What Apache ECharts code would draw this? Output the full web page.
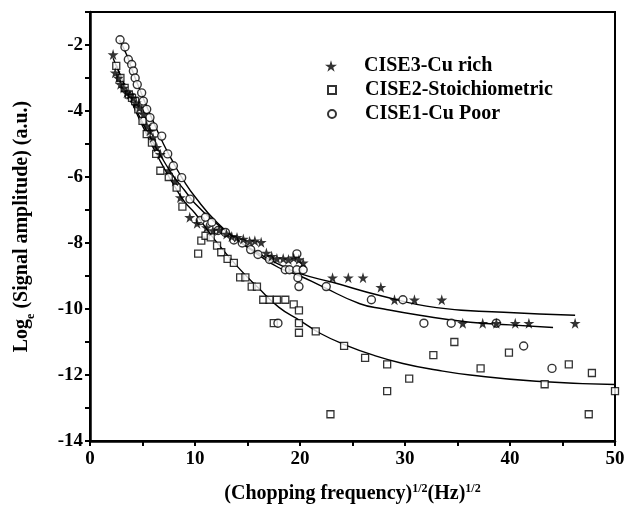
<!DOCTYPE html>
<html>
<head>
<meta charset="utf-8">
<script src="https://cdn.jsdelivr.net/npm/echarts/dist/echarts.min.js"></script>
<style>
  html, body { margin: 0; padding: 0; background: #fff; }
  #chart { width: 629px; height: 516px; }
</style>
</head>
<body>
<div id="chart"></div>
<script>
// Measured points: [sqrt(chopping frequency), ln(signal amplitude)]
const cise3Rich = [
  [2.2,-2.29],[2.4,-2.84],[2.7,-3.0],[2.9,-3.19],[3.2,-3.3],[3.5,-3.45],[3.8,-3.5],[4.1,-3.6],
  [4.4,-3.75],[4.7,-3.9],[5.1,-4.1],[5.4,-4.45],[5.7,-4.6],[6.0,-4.8],[6.35,-5.1],[6.7,-5.31],
  [7.5,-5.8],[8.1,-6.12],[8.6,-6.62],[9.5,-7.22],[10.2,-7.4],[11.1,-7.53],[11.7,-7.62],[12.3,-7.6],
  [13.0,-7.73],[13.5,-7.8],[14.0,-7.83],[14.6,-7.88],[15.2,-7.95],[15.7,-7.93],[16.3,-7.98],
  [16.8,-8.3],[17.3,-8.4],[17.8,-8.47],[18.4,-8.47],[18.9,-8.5],[19.4,-8.45],[19.9,-8.5],[20.3,-8.6],
  [23.1,-9.05],[24.6,-9.05],[26.0,-9.05],[27.7,-9.34],[29.0,-9.72],[30.9,-9.72],[33.5,-9.72],
  [35.5,-10.43],[37.4,-10.43],[38.7,-10.43],[40.5,-10.43],[41.8,-10.43],[46.2,-10.43]
];
const cise2Stoich = [
  [2.5,-2.63],[2.9,-3.0],[3.3,-3.3],[3.7,-3.5],[4.0,-3.6],[4.3,-3.7],[4.6,-3.95],[5.0,-4.3],
  [5.4,-4.7],[5.9,-4.96],[6.3,-5.3],[6.7,-5.81],[7.5,-6.0],[8.25,-6.32],[8.8,-6.9],[10.3,-8.32],
  [10.6,-7.93],[11.0,-7.78],[11.5,-7.83],[12.1,-8.08],[12.5,-8.28],[13.1,-8.48],[13.7,-8.6],
  [14.3,-9.04],[14.8,-9.04],[15.4,-9.32],[15.9,-9.32],[16.5,-9.72],[17.1,-9.72],[17.8,-9.72],
  [18.6,-9.72],[19.4,-9.86],[19.9,-10.04],[17.5,-10.43],[19.9,-10.43],[19.9,-10.72],[21.5,-10.68],
  [22.9,-13.19],[24.2,-11.12],[26.2,-11.48],[28.3,-11.68],[28.3,-12.49],[30.4,-12.11],[32.7,-11.4],
  [34.7,-11.0],[37.2,-11.8],[39.9,-11.32],[43.3,-12.28],[45.6,-11.68],[47.5,-13.19],[47.8,-11.94],
  [50.0,-12.49]
];
const cise1Poor = [
  [2.86,-1.84],[3.33,-2.06],[3.65,-2.44],[3.97,-2.59],[4.13,-2.79],[4.3,-3.0],[4.5,-3.2],[4.92,-3.45],
  [5.08,-3.7],[5.4,-3.95],[5.71,-4.2],[6.03,-4.48],[6.83,-4.76],[7.4,-5.3],[7.94,-5.66],[8.73,-6.02],
  [9.52,-6.67],[10.5,-7.32],[11.0,-7.22],[11.6,-7.37],[12.2,-7.62],[12.9,-7.68],[13.7,-7.91],
  [14.5,-8.0],[15.3,-8.2],[16.0,-8.35],[17.1,-8.5],[17.9,-10.43],[18.6,-8.81],[19.0,-8.81],
  [19.7,-8.33],[19.7,-8.81],[20.3,-8.81],[19.8,-9.05],[19.9,-9.32],[22.5,-9.32],[26.8,-9.72],
  [29.8,-9.72],[31.8,-10.43],[34.4,-10.43],[38.7,-10.43],[41.3,-11.12],[44.0,-11.8]
];

// Fitted decay curves
const fit3 = [
  [2.2,-2.4],[3,-3.0],[4,-3.7],[5,-4.35],[6,-4.95],[7,-5.5],[8,-6.0],[9,-6.4],[10,-6.8],
  [12,-7.4],[14,-7.9],[16,-8.3],[18,-8.65],[20,-8.93],[23.1,-9.19],[27.6,-9.59],[33,-9.96],
  [39.4,-10.10],[46.2,-10.19]
];
const fit2 = [
  [2.5,-2.6],[3,-3.0],[4,-3.75],[5,-4.45],[6,-5.1],[7,-5.7],[8,-6.25],[9,-6.75],[10,-7.1],
  [12,-7.95],[14,-8.7],[16,-9.35],[18,-9.95],[20,-10.35],[22,-10.75],[24.4,-11.1],[27,-11.4],
  [29.8,-11.65],[33,-11.85],[36.2,-12.0],[42.5,-12.19],[50,-12.29]
];
const fit1 = [
  [2.8,-1.85],[3.5,-2.3],[4,-2.75],[5,-3.55],[6,-4.3],[7,-5.0],[8,-5.6],[9,-6.15],[10,-6.6],
  [12,-7.35],[14,-7.9],[16,-8.35],[18,-8.75],[20,-9.0],[22,-9.3],[25.7,-9.84],[28,-10.0],
  [31.4,-10.19],[36.2,-10.4],[40,-10.48],[44.1,-10.56]
];

const seriesNames = ['CISE3-Cu rich', 'CISE2-Stoichiometric', 'CISE1-Cu Poor'];

const FONT = '"Liberation Serif", "Times New Roman", serif';
const STAR = 'path://M50,0 L61,35 L98,35 L68,57 L79,91 L50,70 L21,91 L32,57 L2,35 L39,35 Z';

const chart = echarts.init(document.getElementById('chart'), null, { renderer: 'canvas' });

function fitLine(data) {
  return {
    type: 'line', data: data, smooth: true, showSymbol: false, symbol: 'none',
    lineStyle: { color: '#000', width: 1.4 }, silent: true, z: 1
  };
}

// One legend block per entry so each key symbol can have its own size
function legendRow(name, icon, size, centerY) {
  const iconCenter = 331, textStart = 364, fontSize = 20;
  const left = iconCenter - size / 2;
  return {
    orient: 'vertical', left: left, top: centerY - fontSize / 2, padding: 0,
    itemWidth: size, itemHeight: size,
    textStyle: {
      fontFamily: FONT, fontWeight: 'bold', fontSize: fontSize, color: '#000',
      padding: [0, 0, 0, textStart - (left + size + 5)]
    },
    data: [{ name: name, icon: icon }]
  };
}

chart.setOption({
  animation: false,
  backgroundColor: '#fff',
  grid: { left: 90, right: 14, top: 12, bottom: 75, show: true, borderColor: '#000', borderWidth: 2 },
  legend: [
    legendRow(seriesNames[0], STAR, 12, 66),
    legendRow(seriesNames[1], 'rect', 8, 90),
    legendRow(seriesNames[2], 'circle', 8, 114)
  ],
  xAxis: {
    type: 'value', min: 0, max: 50, interval: 10,
    axisLine: { lineStyle: { color: '#000', width: 2.5 } },
    axisTick: { show: true, inside: false, length: 5, lineStyle: { color: '#000', width: 2 } },
    minorTick: { show: true, splitNumber: 2, length: 5, lineStyle: { color: '#000', width: 2 } },
    splitLine: { show: false },
    axisLabel: { fontFamily: FONT, fontWeight: 'bold', fontSize: 19, color: '#000', margin: 9 },
    name: '{a|(Chopping frequency)}{s|1/2}{a|(Hz)}{s|1/2}',
    nameLocation: 'middle', nameGap: 42,
    nameTextStyle: {
      rich: {
        a: { fontFamily: FONT, fontWeight: 'bold', fontSize: 20, color: '#000', lineHeight: 21 },
        s: { fontFamily: FONT, fontWeight: 'bold', fontSize: 12, color: '#000', verticalAlign: 'top', lineHeight: 12 }
      }
    }
  },
  yAxis: {
    type: 'value', min: -14, max: -1, interval: 2,
    axisLine: { lineStyle: { color: '#000', width: 2.5 } },
    axisTick: { show: true, inside: false, length: 5, lineStyle: { color: '#000', width: 2 } },
    minorTick: { show: true, splitNumber: 2, length: 5, lineStyle: { color: '#000', width: 2 } },
    splitLine: { show: false },
    axisLabel: {
      fontFamily: FONT, fontWeight: 'bold', fontSize: 19, color: '#000', margin: 7,
      formatter: v => (v === -1 ? '' : String(v))
    },
    name: '{a|Log}{e|e}{a| (Signal amplitude) (a.u.)}',
    nameLocation: 'middle', nameRotate: 90, nameGap: 58,
    nameTextStyle: {
      rich: {
        a: { fontFamily: FONT, fontWeight: 'bold', fontSize: 20, color: '#000', lineHeight: 21 },
        e: { fontFamily: FONT, fontWeight: 'bold', fontSize: 12, color: '#000', verticalAlign: 'bottom', lineHeight: 12, padding: [0, 0, -5, 0] }
      }
    }
  },
  series: [
    fitLine(fit3), fitLine(fit2), fitLine(fit1),
    {
      name: seriesNames[1], type: 'scatter', data: cise2Stoich, symbol: 'rect', symbolSize: 7,
      itemStyle: { color: '#fff', borderColor: '#000', borderWidth: 1.3 }, z: 3
    },
    {
      name: seriesNames[2], type: 'scatter', data: cise1Poor, symbol: 'circle', symbolSize: 8,
      itemStyle: { color: '#fff', borderColor: '#000', borderWidth: 1.4 }, z: 4
    },
    {
      name: seriesNames[0], type: 'scatter', data: cise3Rich, symbol: STAR, symbolSize: 11,
      itemStyle: { color: '#000', borderColor: '#000', borderWidth: 0 }, z: 5
    }
  ]
});
</script>
</body>
</html>
